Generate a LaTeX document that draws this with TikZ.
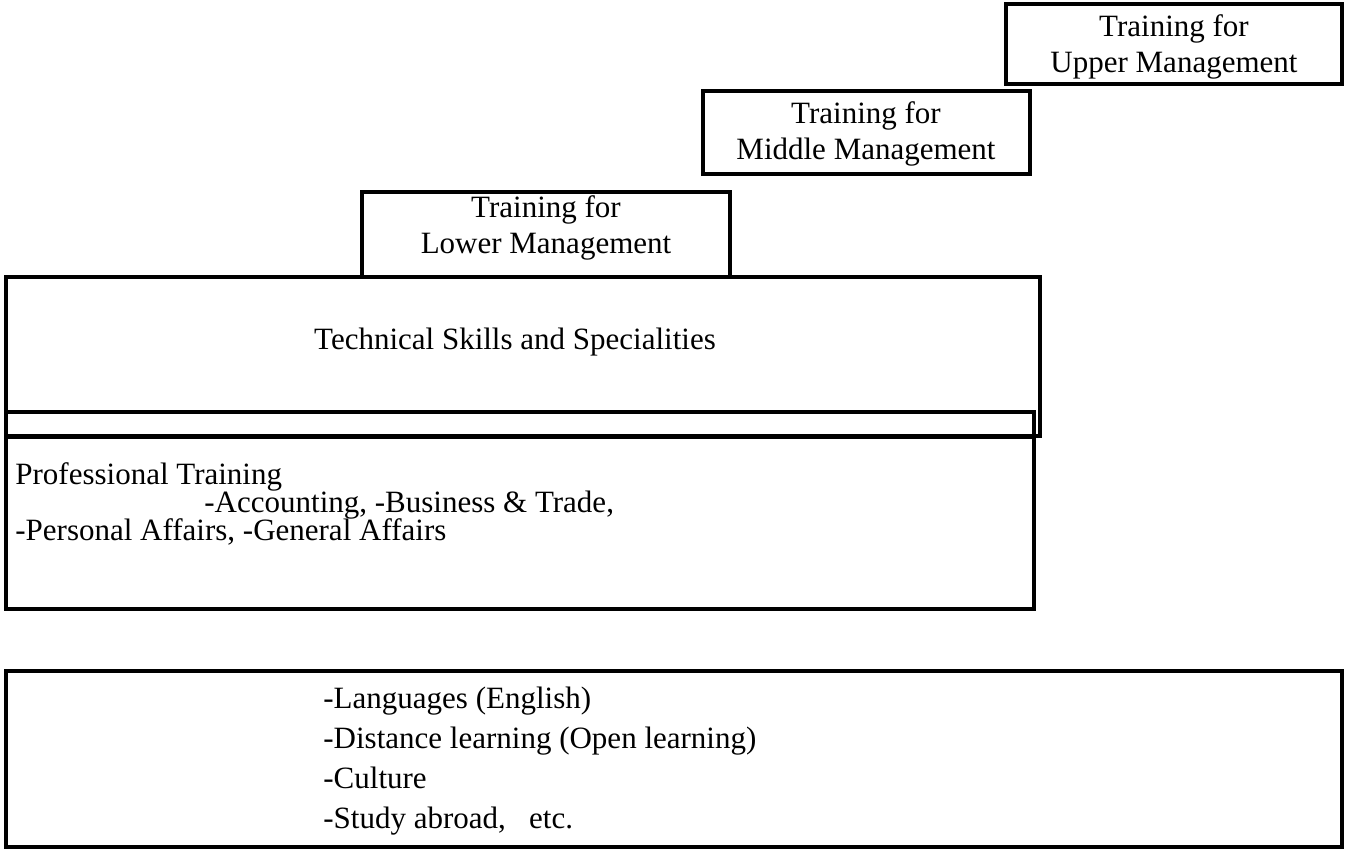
\documentclass[tikz,border=0pt]{standalone}
\usepackage{fontspec}
\setmainfont{Liberation Serif}
\usetikzlibrary{positioning}

\tikzset{
	boxline/.style={draw, line width=2pt},
	txt/.style={inner sep=0pt, font=\fontsize{15.5}{18}\selectfont},
	ctxt/.style={txt, align=center},
}
\newcommand\myrect[4]{\draw[boxline] (#1,#2) rectangle (#3,#4) ; }

\begin{document}
\begin{tikzpicture}[x=0.5pt, y=-0.5pt]
	\useasboundingbox (0,0) rectangle (1349,850);

	% upper management step
	\myrect{1006}{4}{1342}{84}
	\node[ctxt] (upper) at (1174,47) {Training for\\Upper Management};
	% middle management step
	\myrect{703}{91}{1030}{174}
	\node[ctxt] (middle) at (866,134) {Training for\\Middle Management};
	% lower management step
	\myrect{362}{192}{730}{277}
	\node[ctxt] (lower) at (546,228) {Training for\\Lower Management};

	% technical block
	\myrect{6}{277}{1040}{436}
	\node[txt, anchor=base] (tech) at (515,350) {Technical Skills and Specialities};
	% thin strip
	\myrect{6}{412}{1034}{437}
	% professional block
	\myrect{6}{437}{1034}{609}
	\node[txt, anchor=base west] (prof) at (15,484) {Professional Training};
	\node[txt, anchor=base west] (profa) at (204,512) {-Accounting, -Business \& Trade,};
	\node[txt, anchor=base west] (profb) at (15,540) {-Personal Affairs, -General Affairs};

	% self development block
	\myrect{6}{671}{1342}{847}
	\node[txt, anchor=base west] (lang) at (323,708) {-Languages (English)};
	\node[txt, anchor=base west] (dist) at (323,748) {-Distance learning (Open learning)};
	\node[txt, anchor=base west] (cult) at (323,788) {-Culture};
	\node[txt, anchor=base west] (abroad) at (323,828) {-Study abroad,\ \ \ etc.};
\end{tikzpicture}
\end{document}
